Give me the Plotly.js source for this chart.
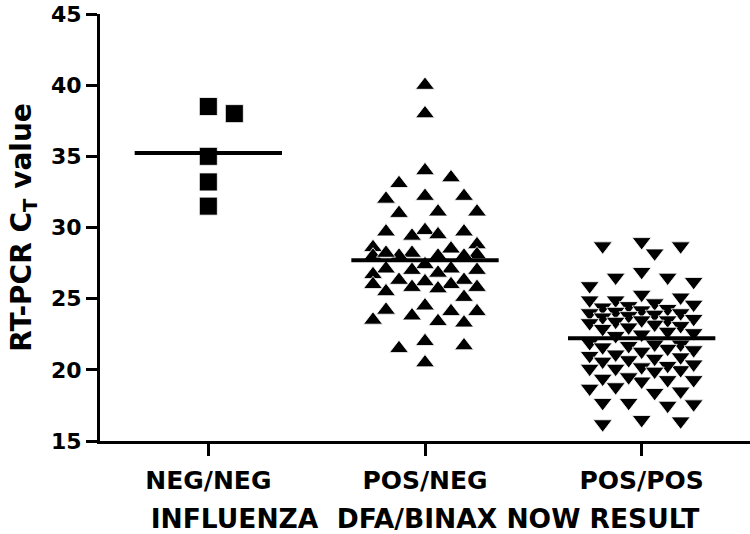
<!DOCTYPE html>
<html>
<head>
<meta charset="utf-8">
<script src="https://cdn.plot.ly/plotly-3.0.1.min.js"></script>
<style>html,body{margin:0;padding:0;background:#fff;}#chart{width:750px;height:534px;}</style>
</head>
<body>
<div id="chart"></div>
<script>
// ---- data ----
const categories = ['NEG/NEG', 'POS/NEG', 'POS/POS'];
const negNeg = [38.0, 38.5, 35.0, 33.2, 31.5];
const posNeg = [40.0, 38.0, 34.0, 33.5, 33.1, 32.2, 32.0, 32.2, 31.1, 31.0, 31.1,
  29.8, 29.7, 29.4, 29.5, 29.7, 28.6, 28.8, 28.5, 28.2, 28.1, 28.0, 28.0, 28.0, 28.2, 28.0,
  27.4, 27.1, 27.0, 27.1, 26.8, 27.0, 26.7, 26.3, 26.3, 26.2, 26.0, 26.0,
  25.8, 25.7, 25.8, 25.5, 25.1, 24.5, 23.8, 24.2, 23.4, 23.3, 24.1, 23.5, 24.1,
  22.0, 21.7, 21.5, 20.5];
const posPos = [29.0, 28.7, 28.7, 28.2,
  26.9, 26.5, 26.5, 26.2, 25.9,
  25.3, 25.1, 24.9, 24.9, 24.7,
  24.6, 24.5, 24.4, 24.3, 24.2,
  24.0, 23.9, 24.1, 23.8, 24.0, 23.7,
  23.5, 23.4, 23.2, 23.6, 23.0, 23.3, 23.1, 23.5, 22.9,
  22.7, 22.6, 22.5, 22.4,
  21.9, 21.8, 21.6, 21.5, 21.7, 21.4, 21.8, 21.3,
  21.0, 20.9, 20.7, 20.8, 20.6, 21.1,
  20.2, 20.1, 20.0, 20.3, 19.9, 20.1, 20.4,
  19.4, 19.3, 19.2, 19.5, 19.3,
  18.8, 18.7, 18.5, 18.4,
  17.7, 17.7, 17.6, 17.5,
  16.5, 16.4, 16.2];
const yTicks = [15, 20, 25, 30, 35, 40, 45];
const groups = [negNeg, posNeg, posPos];
const symbols = ['square', 'triangle-up', 'triangle-down'];

// ---- layout geometry ----
const W = 750, H = 534;
const margin = {l: 100, r: 0, t: 14, b: 93};
const xRange = [-0.5, 2.5], yRange = [15, 45];
const pxPerCat = (W - margin.l - margin.r) / (xRange[1] - xRange[0]);
const pxPerUnit = (H - margin.t - margin.b) / (yRange[1] - yRange[0]);

// deterministic dot-plot spreading (computed from the values)
function swarm(vals) {
  const order = vals.map((v, i) => i).sort((a, b) => vals[b] - vals[a]);
  const placed = [];
  const off = new Array(vals.length);
  const stepPx = 13, ew = 27, eh = 16;
  const ks = [0, 1, -1, 2, -2, 3, -3, 4, -4];
  for (const i of order) {
    let best = 0, bestScore = -1;
    for (const k of ks) {
      let score = Infinity;
      for (const p of placed) {
        const dx = (k - p.k) * stepPx, dy = (vals[i] - p.v) * pxPerUnit;
        const s = (dx / ew) ** 2 + (dy / eh) ** 2;
        if (s < score) score = s;
      }
      if (score >= 1) { best = k; bestScore = score; break; }
      if (score > bestScore) { bestScore = score; best = k; }
    }
    placed.push({k: best, v: vals[i]});
    off[i] = best * stepPx / pxPerCat;
  }
  return off;
}

const traces = [];
groups.forEach((vals, gi) => {
  const off = swarm(vals);
  traces.push({
    type: 'scatter', mode: 'markers',
    x: vals.map((v, i) => gi + off[i]), y: vals,
    marker: {symbol: symbols[gi], size: gi === 0 ? 18 : 16.5, color: '#000',
             line: {color: '#fff', width: 0.8}},
    hoverinfo: 'y', showlegend: false, cliponaxis: false
  });
});
groups.forEach((vals, gi) => {
  const mean = vals.reduce((a, b) => a + b, 0) / vals.length;
  traces.push({
    type: 'scatter', mode: 'lines',
    x: [gi - 0.34, gi + 0.34], y: [mean, mean],
    line: {color: '#000', width: 4}, hoverinfo: 'skip', showlegend: false
  });
});

const fontFam = 'DejaVu Sans, Arial, sans-serif';
const layout = {
  width: W, height: H, margin: margin,
  paper_bgcolor: '#fff', plot_bgcolor: '#fff',
  font: {family: fontFam, color: '#000', weight: 'bold'},
  showlegend: false,
  xaxis: {
    range: xRange, tickvals: [0, 1, 2], ticktext: categories,
    showline: true, linecolor: '#000', linewidth: 3,
    ticks: 'outside', ticklen: 12, tickwidth: 3, tickcolor: '#000',
    ticklabelstandoff: 3, ticklabeloverflow: 'allow',
    showgrid: false, zeroline: false, fixedrange: true,
    tickfont: {family: fontFam, size: 25, weight: 'bold', color: '#000'},
    title: {text: 'INFLUENZA\u00a0 DFA/BINAX NOW RESULT', standoff: 19,
            font: {family: fontFam, size: 26.5, weight: 'bold', color: '#000'}}
  },
  yaxis: {
    range: yRange, tickvals: yTicks,
    showline: true, linecolor: '#000', linewidth: 3,
    ticks: 'outside', ticklen: 11, tickwidth: 3, tickcolor: '#000',
    ticklabeloverflow: 'allow',
    showgrid: false, zeroline: false, fixedrange: true,
    tickfont: {family: fontFam, size: 22, weight: 'bold', color: '#000'},
    title: {text: 'RT-PCR C<sub>T</sub> value', standoff: 12,
            font: {family: fontFam, size: 28, weight: 'bold', color: '#000'}}
  }
};

Plotly.newPlot('chart', traces, layout, {displayModeBar: false, staticPlot: true});
</script>
</body>
</html>
